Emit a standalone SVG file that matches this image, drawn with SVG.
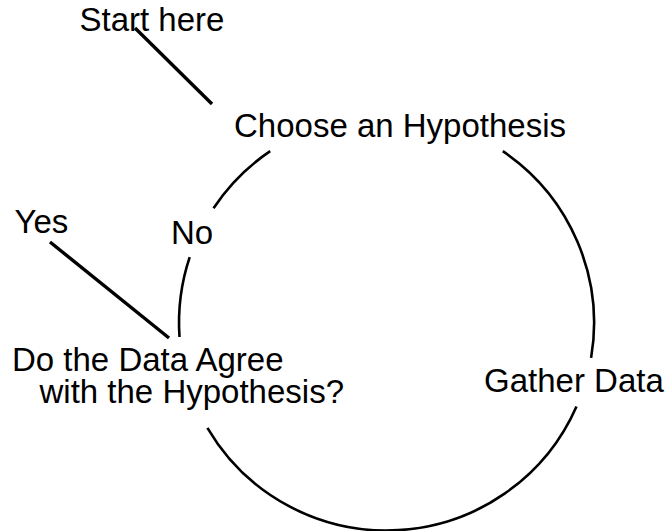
<svg xmlns="http://www.w3.org/2000/svg" width="668" height="531" viewBox="0 0 668 531">
<style>
.lbl{font-family:"Liberation Sans",Arial,sans-serif;font-size:33px;fill:#000}
.arc{fill:none;stroke:#000;stroke-width:2.6}
.ptr{stroke:#000;stroke-width:3.4;stroke-linecap:butt}
</style>
<rect width="668" height="531" fill="#fff"/>
<g id="connectors">
<path class="arc" d="M502.8,151.2 A207.5,207.5 0 0 1 591.1,357.9"/>
<path class="arc" d="M576.5,406.4 A207.5,207.5 0 0 1 207.4,427.8"/>
<path class="arc" d="M179.5,337 A207.5,207.5 0 0 1 189.7,257.2"/>
<path class="arc" d="M213.5,208.3 A207.5,207.5 0 0 1 270.2,151.2"/>
<line class="ptr" x1="135" y1="28" x2="212" y2="104"/>
<line class="ptr" x1="50" y1="242" x2="169" y2="338"/>
</g>
<g id="start"><text class="lbl" x="79.5" y="31">Start here</text></g>
<g id="choose"><text class="lbl" x="234" y="137">Choose an Hypothesis</text></g>
<g id="gather"><text class="lbl" x="484" y="392">Gather Data</text></g>
<g id="check"><text class="lbl" x="12" y="371">Do the Data Agree</text><text class="lbl" x="39.5" y="403">with the Hypothesis?</text></g>
<g id="no"><text class="lbl" x="171" y="244">No</text></g>
<g id="yes"><text class="lbl" x="14.5" y="233">Yes</text></g>
</svg>
